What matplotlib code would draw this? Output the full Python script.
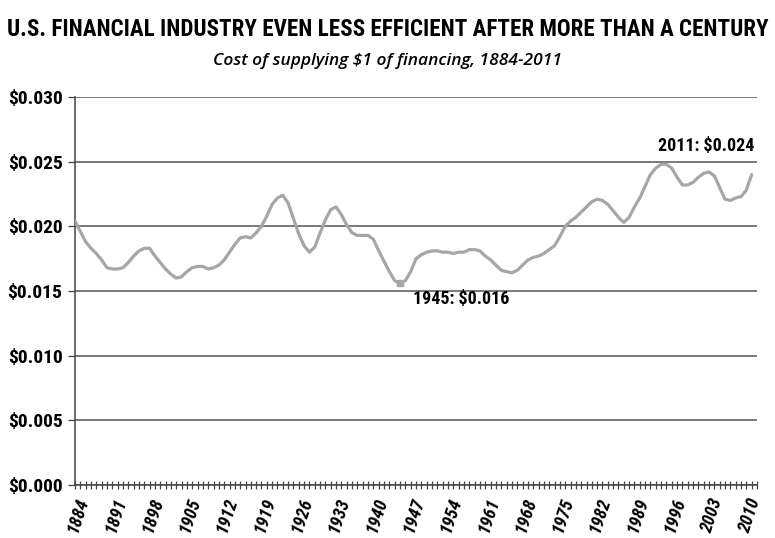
import matplotlib
matplotlib.use('Agg')
import numpy as np
from matplotlib import pyplot as plt
from matplotlib import font_manager

# narrowest bold family that is installed
ttf = font_manager.fontManager.ttflist
names = {f.name for f in ttf}
cond_dejavu = any(f.name == 'DejaVu Sans' and f.stretch == 'condensed' for f in ttf)
narrow_font = {'family': ['DejaVu Sans'], 'stretch': 'normal'}
for cand in ['Liberation Sans Narrow', 'Roboto Condensed', 'Open Sans Condensed']:
    if cand in names:
        narrow_font = {'family': [cand, 'DejaVu Sans'], 'stretch': 'normal'}
        break
else:
    if cond_dejavu:
        narrow_font = {'family': ['DejaVu Sans'], 'stretch': 'condensed'}
    elif 'Roboto' in names:
        narrow_font = {'family': ['Roboto', 'DejaVu Sans'], 'stretch': 'normal'}
nf = dict(fontfamily=narrow_font['family'], fontstretch=narrow_font['stretch'],
          fontweight='bold')

# cost of supplying $1 of financing, one value per year
years = list(range(1884, 2012))
cost = [
    0.0204, 0.0196, 0.0188, 0.0183, 0.0179, 0.0174, 0.0168, 0.0167, 0.0167, 0.0168,  # 1884-1893
    0.0172, 0.0177, 0.0181, 0.0183, 0.0183, 0.0177, 0.0172, 0.0167, 0.0163, 0.0160,  # 1894-1903
    0.0161, 0.0165, 0.0168, 0.0169, 0.0169, 0.0167, 0.0168, 0.0170, 0.0174, 0.0180,  # 1904-1913
    0.0186, 0.0191, 0.0192, 0.0191, 0.0195, 0.0200, 0.0208, 0.0217, 0.0222, 0.0224,  # 1914-1923
    0.0218, 0.0206, 0.0194, 0.0185, 0.0180, 0.0184, 0.0195, 0.0205, 0.0213, 0.0215,  # 1924-1933
    0.0209, 0.0201, 0.0195, 0.0193, 0.0193, 0.0193, 0.0190, 0.0181, 0.0173, 0.0165,  # 1934-1943
    0.0158, 0.0156, 0.0158, 0.0165, 0.0175, 0.0178, 0.0180, 0.0181, 0.0181, 0.0180,  # 1944-1953
    0.0180, 0.0179, 0.0180, 0.0180, 0.0182, 0.0182, 0.0181, 0.0177, 0.0174, 0.0170,  # 1954-1963
    0.0166, 0.0165, 0.0164, 0.0166, 0.0170, 0.0174, 0.0176, 0.0177, 0.0179, 0.0182,  # 1964-1973
    0.0185, 0.0192, 0.0200, 0.0204, 0.0207, 0.0211, 0.0215, 0.0219, 0.0221, 0.0220,  # 1974-1983
    0.0217, 0.0212, 0.0207, 0.0203, 0.0207, 0.0215, 0.0222, 0.0231, 0.0240, 0.0245,  # 1984-1993
    0.0248, 0.0248, 0.0245, 0.0238, 0.0232, 0.0232, 0.0234, 0.0238, 0.0241, 0.0242,  # 1994-2003
    0.0239, 0.0230, 0.0221, 0.0220, 0.0222, 0.0223, 0.0228, 0.0240,                  # 2004-2011
]
assert len(cost) == len(years)

label_years = list(range(1884, 2012, 7))
y_ticks = [0.000, 0.005, 0.010, 0.015, 0.020, 0.025, 0.030]

fig = plt.figure(figsize=(7.75, 5.38), dpi=100)
ax = fig.add_axes([75 / 775, 1 - 485 / 538, (757 - 75) / 775, (485 - 97) / 538])

ax.plot(years, cost, color='#a6a6a6', lw=2.3, solid_capstyle='round', zorder=3)

i45 = years.index(1945)
ax.plot(years[i45], cost[i45], marker='s', ms=4, color='#a6a6a6', zorder=4)

ax.set_xlim(1884, 2012)
ax.set_ylim(0, 0.030)

ax.set_yticks(y_ticks)
ax.set_yticklabels(['$%.3f' % v for v in y_ticks], fontsize=14, **nf)
ax.yaxis.grid(True, color='#555555', lw=1.1)
ax.set_axisbelow(True)

ax.set_xticks(range(1884, 2013), minor=True)
ax.set_xticks(label_years)
ax.set_xticklabels([str(y) for y in label_years], rotation=72, ha='right',
                   rotation_mode='anchor', fontstyle='italic', fontsize=13, **nf)
ax.tick_params(axis='x', which='both', direction='inout', length=6, width=0.9,
               color='#444444', pad=5)
ax.tick_params(axis='y', length=5, width=0.9, color='#444444', pad=4)

for s in ['top', 'right']:
    ax.spines[s].set_visible(False)
ax.spines['left'].set_color('#444444')
ax.spines['bottom'].set_color('#444444')
ax.spines['left'].set_linewidth(1.1)
ax.spines['bottom'].set_linewidth(1.1)

v45 = cost[years.index(1945)]
ax.annotate('1945: $%.3f' % v45, xy=(1945, v45), xytext=(9, -5),
            textcoords='offset points', ha='left', va='top', fontsize=13, **nf)
v11 = cost[years.index(2011)]
ax.text(2011.5, 0.0255, '2011: $%.3f' % v11, ha='right', va='bottom',
        fontsize=13, **nf)

title = fig.text(0.5, 1 - 29 / 538,
                 'U.S. FINANCIAL INDUSTRY EVEN LESS EFFICIENT AFTER MORE THAN A CENTURY',
                 ha='center', va='center', fontsize=19, **nf)
fig.text(0.5, 1 - 61 / 538, 'Cost of supplying $1 of financing, 1884-2011',
         ha='center', va='center', fontfamily=['Open Sans', 'DejaVu Sans'],
         fontstyle='italic', fontweight='semibold', fontsize=12.5)

# shrink the headline until it fits the page width
r = fig.canvas.get_renderer()
w = title.get_window_extent(r).width
if w > 760:
    title.set_fontsize(19 * 760 / w)

fig.savefig('out.png', dpi=100, facecolor='white')
